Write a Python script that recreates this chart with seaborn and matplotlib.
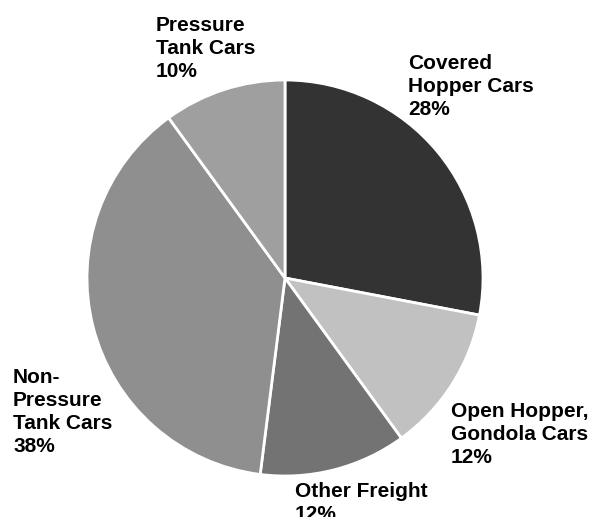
import matplotlib
matplotlib.use("Agg")
import matplotlib.pyplot as plt
import seaborn as sns

categories = ["Covered\nHopper Cars", "Open Hopper,\nGondola Cars", "Other Freight", "Non-\nPressure\nTank Cars", "Pressure\nTank Cars"]
values = [28, 12, 12, 38, 10]
colors = ["#333333", "#c1c1c1", "#737373", "#8f8f8f", "#9f9f9f"]

sns.set_theme(style="white")
plt.rcParams['font.family'] = ['Liberation Sans', 'DejaVu Sans']

W, H = 589, 517
fig = plt.figure(figsize=(W / 100, H / 100), dpi=100)
cx, cy, r = 285, 278, 198
ax = fig.add_axes([(cx - r) / W, (H - cy - r) / H, 2 * r / W, 2 * r / H])
ax.pie(values, colors=colors, startangle=90, counterclock=False,
       wedgeprops=dict(edgecolor="white", linewidth=2))
ax.set_xlim(-1, 1)
ax.set_ylim(-1, 1)
ax.set_aspect("equal")
ax.axis("off")

# label anchor positions (left, top of first line) in pixels
label_pos = [(408, 54), (451, 402), (295, 482), (13, 368), (156, 16)]
for cat, val, (lx, ly) in zip(categories, values, label_pos):
    fig.text(lx / W, 1 - ly / H, f"{cat}\n{val}%", ha="left", va="top",
             fontsize=15, fontweight="bold", color="black", linespacing=1.27)

fig.savefig("out.png", dpi=100)
